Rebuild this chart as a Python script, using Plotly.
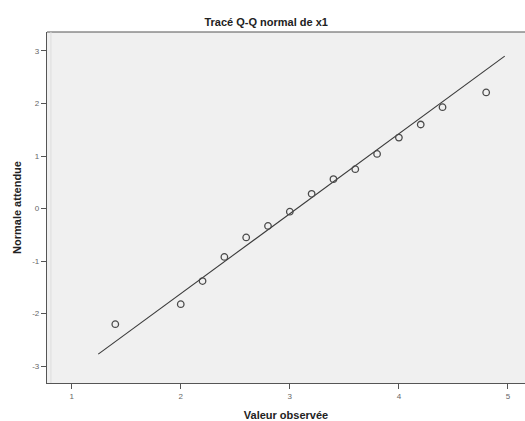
import plotly.graph_objects as go

# Observed values and expected normal values
observed = [1.4, 2.0, 2.2, 2.4, 2.6, 2.8, 3.0, 3.2, 3.4, 3.6, 3.8, 4.0, 4.2, 4.4, 4.8]
expected = [-2.20, -1.82, -1.38, -0.92, -0.55, -0.33, -0.06, 0.28, 0.56, 0.75, 1.04, 1.35, 1.60, 1.93, 2.21]

# Reference line endpoints
line_x = [1.244, 4.97]
line_y = [-2.77, 2.90]

x_ticks = [1, 2, 3, 4, 5]
y_ticks = [-3, -2, -1, 0, 1, 2, 3]

fig = go.Figure()
fig.add_trace(go.Scatter(
    x=line_x, y=line_y, mode="lines",
    line=dict(color="#3a3a3a", width=1.1),
    showlegend=False, hoverinfo="skip",
))
fig.add_trace(go.Scatter(
    x=observed, y=expected, mode="markers",
    marker=dict(symbol="circle-open", size=6.5, color="#4a4a4a", line=dict(width=1.3)),
    showlegend=False,
))

axis_common = dict(
    showgrid=False, zeroline=False,
    ticks="outside", ticklen=5, tickwidth=1, tickcolor="#555555",
    tickfont=dict(family="Liberation Sans, Arial, sans-serif", size=8, color="#666666"),
    showline=True, linecolor="#555555", linewidth=1.2,
    title_font=dict(family="Liberation Sans, Arial, sans-serif", size=11, color="#222222"),
)

fig.update_layout(
    width=525, height=421,
    margin=dict(l=47, r=0, t=32, b=38),
    paper_bgcolor="white",
    plot_bgcolor="#f0f0f0",
    title=dict(
        text="<b>Tracé Q-Q normal de x1</b>",
        x=0.507, xanchor="center", y=0.948, yanchor="middle",
        font=dict(family="Liberation Sans, Arial, sans-serif", size=11, color="#222222"),
    ),
    xaxis=dict(
        range=[0.774, 5.156], tickvals=x_ticks, ticktext=[str(v) for v in x_ticks],
        title=dict(text="<b>Valeur observée</b>", standoff=12),
        mirror=False, automargin=False, **axis_common,
    ),
    yaxis=dict(
        range=[-3.32, 3.36], tickvals=y_ticks, ticktext=[str(v) for v in y_ticks],
        title=dict(text="<b>Normale attendue</b>", standoff=8),
        automargin=False, **axis_common,
    ),
    shapes=[
        dict(type="line", xref="paper", yref="paper", x0=0, x1=1, y0=1, y1=1,
             line=dict(color="#555555", width=1.2)),
        dict(type="line", xref="x", yref="paper", x0=0.81, x1=0.81, y0=0, y1=1,
             line=dict(color="#dddddd", width=1)),
    ],
)

fig.write_html("out.html", post_script="document.body.style.margin='0';",
               config={"displayModeBar": False})
